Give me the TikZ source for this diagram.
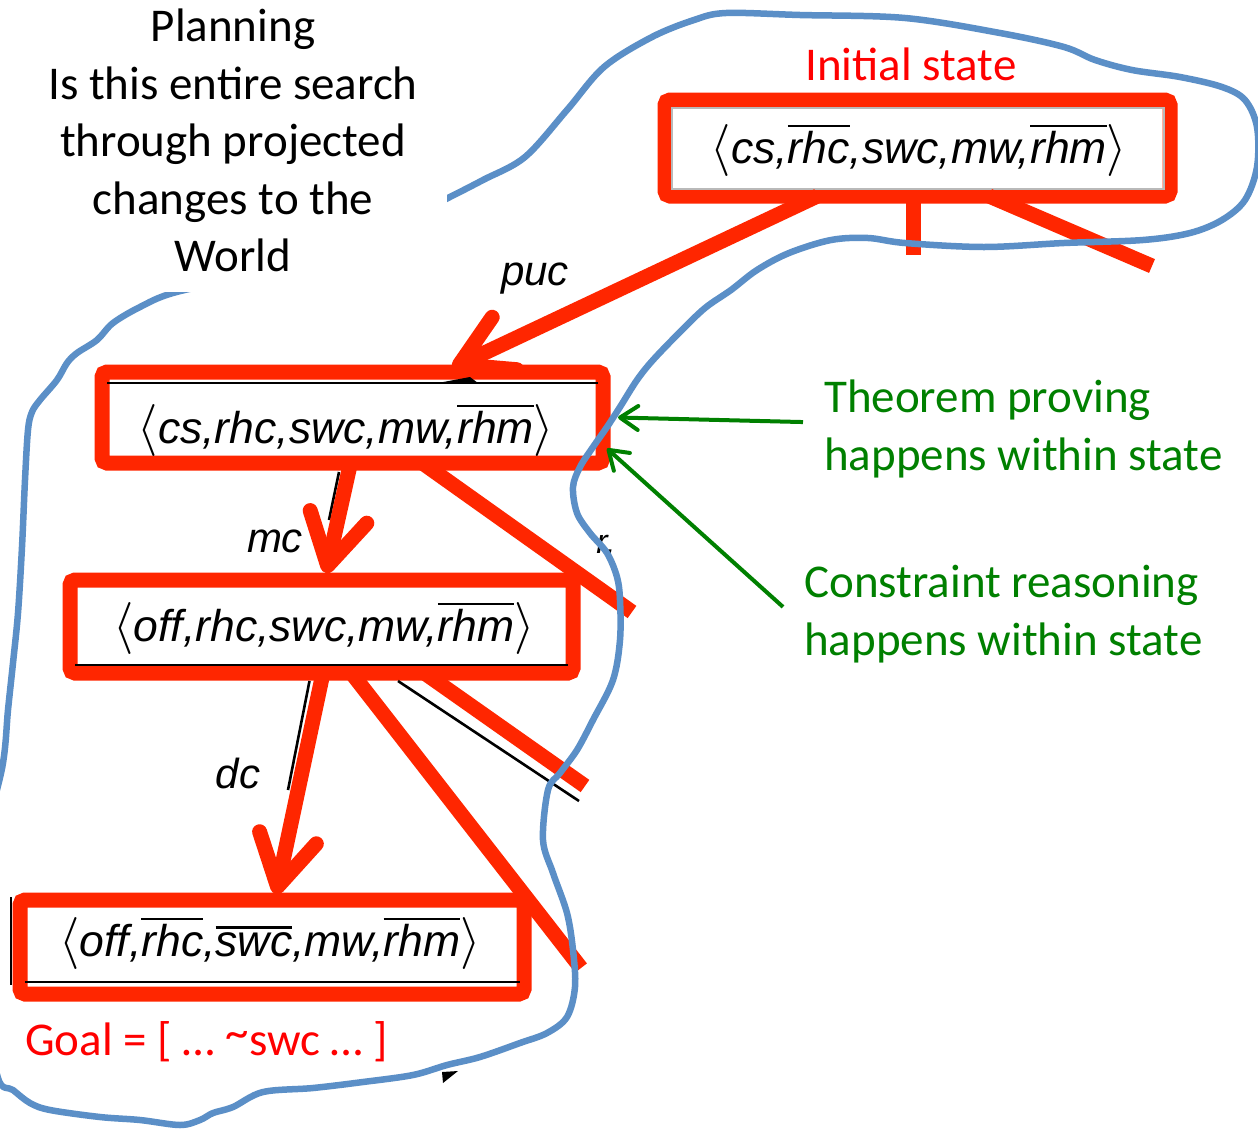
\documentclass[tikz,border=0pt]{standalone}
\usepackage{fontspec}
\setmainfont{Carlito}
\newfontfamily\hvfont{Liberation Sans}
\newfontfamily\brfont{Latin Modern Math}
\usetikzlibrary{arrows.meta,calc}
\definecolor{boxred}{RGB}{255,38,0}
\definecolor{txtred}{RGB}{255,0,0}
\definecolor{txtgreen}{RGB}{0,128,0}
\definecolor{loopblue}{RGB}{91,143,199}
% overbar for negated fluents
\newcommand\negbar[1]{\leavevmode\vbox{\hrule height 2.4pt\kern 3.5pt\hbox{#1}}}
\newcommand\la{\hbox{\brfont\fontsize{52}{52}\selectfont\char"27E8}}
\newcommand\ra{\hbox{\brfont\fontsize{52}{52}\selectfont\char"27E9}}
\begin{document}
\begin{tikzpicture}[x=1pt,y=-1pt,
  statebox/.style={draw=boxred, line width=15pt, rounded corners=5pt,
    outer sep=0pt, inner sep=0pt, fill=white},
  formula/.style={anchor=base, inner sep=0pt,
    font=\hvfont\itshape\fontsize{44.5}{50}\selectfont},
  edgelbl/.style={anchor=base, inner sep=0pt,
    font=\hvfont\itshape\fontsize{42}{48}\selectfont},
  redline/.style={draw=boxred, line width=15pt},
  redarrow/.style={redline, -{Straight Barb[round,length=50pt,width=58pt]}},
  origline/.style={draw=black, line width=2.6pt},
  note/.style={inner sep=0pt, font=\fontsize{47}{57.5}\selectfont},
  greenarrow/.style={draw=txtgreen, line width=4pt,
    -{Straight Barb[round,length=18pt,width=24pt]}}]
\useasboundingbox (0,0) rectangle (1258,1130);
\clip (0,0) rectangle (1258,1130);
\fill[white] (0,0) rectangle (1258,1130);

% state boxes
\node[statebox, minimum width=505pt, minimum height=96pt] (b1) at (917.5,148) {};
\node[statebox, minimum width=501pt, minimum height=91pt] (b2) at (352.5,417.5) {};
\node[statebox, minimum width=503pt, minimum height=93pt] (b3) at (321.5,626.5) {};
\node[statebox, minimum width=504pt, minimum height=94pt] (b4) at (272,947) {};

% rules of the underlying tree drawing
\draw[gray!55, line width=1.2pt] ($(b1.north west)+(7,8)$) rectangle ($(b1.south east)+(-6,-7)$);
\draw[origline] ($(b2.north west)+(5,11)$) -- ($(b2.north east)+(-5,11)$);
\fill[black] (438,383) -- (470,377) -- (478,383) -- cycle;
\draw[origline] ($(b3.south west)+(5,-8)$) -- ($(b3.south east)+(-5,-8)$);
\draw[origline] ($(b4.south west)+(5,-12)$) -- ($(b4.south east)+(-4,-12)$);
\draw[origline] ($(b4.north west)+(-9,-3)$) -- ($(b4.south west)+(-9,-9)$);

% cut-off branches of the tree
\coordinate (e1) at (329,520);
\coordinate (e2) at (288,790);
\coordinate (e3) at (579,801);
\draw[origline] ($(b2.south)+(-13.5,9)$) -- (e1);
\draw[origline] ($(b3.south)+(-12,8)$) -- (e2);
\draw[origline] ($(b3.south)+(76.5,8)$) -- (e3);
\node[edgelbl, font=\hvfont\itshape\fontsize{34}{40}\selectfont] (rfrag) at (606,553) {r.};
\fill[black] (442,1072) -- (458,1071) -- (443,1083) -- cycle;

% highlighted transitions
\coordinate (c1) at (913,255);
\coordinate (c2) at (1152,266);
\coordinate (c3) at (632,612);
\coordinate (c4) at (585,786);
\coordinate (c5) at (581,968);
\draw[redarrow] ($(b1.south)+(-100,0)$) -- ($(b2.north)+(100,-4)$);
\draw[redline] ($(b1.south)+(-4.5,0)$) -- (c1);
\draw[redline] ($(b1.south)+(71.5,0)$) -- (c2);
\draw[redarrow] ($(b2.south)+(-2,0)$) -- ($(b3.north)+(4.5,-7)$);
\draw[redline] ($(b2.south)+(70,0)$) -- (c3);
\draw[redarrow] ($(b3.south)+(1.5,0)$) -- ($(b4.north)+(4,-6)$);
\draw[redline] ($(b3.south)+(30,0)$) -- (c5);
\draw[redline] ($(b3.south)+(103,0)$) -- (c4);

% state descriptions
\node[formula] (f1) at (919,163) {\la cs,\negbar{rhc},swc,mw,\negbar{rhm}\ra};
\node[formula] (f2) at (346,443) {\la cs,rhc,swc,mw,\negbar{rhm}\ra};
\node[formula] (f3) at (324,641) {\la off,rhc,swc,mw,\negbar{rhm}\ra};
\node[formula] (f4) at (270,956) {\la off,\negbar{rhc},\negbar{swc},mw,\negbar{rhm}\ra};

% action labels
\node[edgelbl] (puc) at (535,285) {puc};
\node[edgelbl] (mc) at (275,552) {mc};
\node[edgelbl] (dc) at (238,788) {dc};

% hand-drawn boundary of the search space
\draw[loopblue, line width=6.5pt, line join=round]
  plot[smooth cycle, tension=0.55] coordinates {
  (448,198) (483,180) (525,157) (567,110) (604,67) (652,37) (694,20) (726,13)
  (800,15) (905,18) (1000,33) (1064,47) (1095,60) (1132,70) (1180,77) (1222,87)
  (1245,100) (1257,127) (1257,167) (1245,200) (1222,220) (1190,233) (1143,240)
  (1064,243) (984,247) (905,243) (868,238) (831,240) (789,253) (757,270) (731,290)
  (705,308) (680,332) (653,360) (637,380) (620,407) (607,427) (593,447) (580,467)
  (573,487) (577,513) (590,533) (607,553) (617,577) (620,600) (620,640) (613,680)
  (593,720) (577,750) (560,773) (548,790) (543,840) (553,873) (567,913) (573,950)
  (575,987) (567,1017) (547,1033) (520,1043) (480,1057) (447,1065) (413,1075)
  (363,1082) (313,1088) (263,1092) (233,1107) (213,1113) (200,1120) (180,1125)
  (140,1120) (100,1117) (50,1110) (30,1103) (13,1090) (-2,1078) (-14,1000)
  (-14,850) (3,763) (8,710) (13,663) (18,613) (22,547) (25,480) (28,430) (32,412)
  (40,400) (57,380) (67,363) (77,353) (97,340) (113,323) (140,307) (173,293)
  (250,275) (350,245) (420,212)};

% caption area
\fill[white] (0,0) rectangle (447,292);
\node[note, align=center, anchor=north] (plan) at (233,9)
  {Planning\\Is this entire search\\through projected\\changes to the\\World};

\node[note, text=txtred, anchor=base] (init) at (911,80) {Initial state};
\node[note, text=txtred, anchor=base west] (goal) at (25,1055)
  {Goal = [ … \raisebox{7pt}{\textasciitilde}swc … ]};

\node[note, text=txtgreen, align=left, anchor=north west] (th) at (824,380)
  {Theorem proving\\happens within state};
\node[note, text=txtgreen, align=left, anchor=north west] (cr) at (804,565)
  {Constraint reasoning\\happens within state};

\draw[greenarrow] ($(th.west)+(-21,-7)$) -- ($(b2.east)+(15,0)$);
\draw[greenarrow] ($(cr.west)+(-21,-7)$) -- ($(b2.east)+(4,31)$);
\end{tikzpicture}
\end{document}
